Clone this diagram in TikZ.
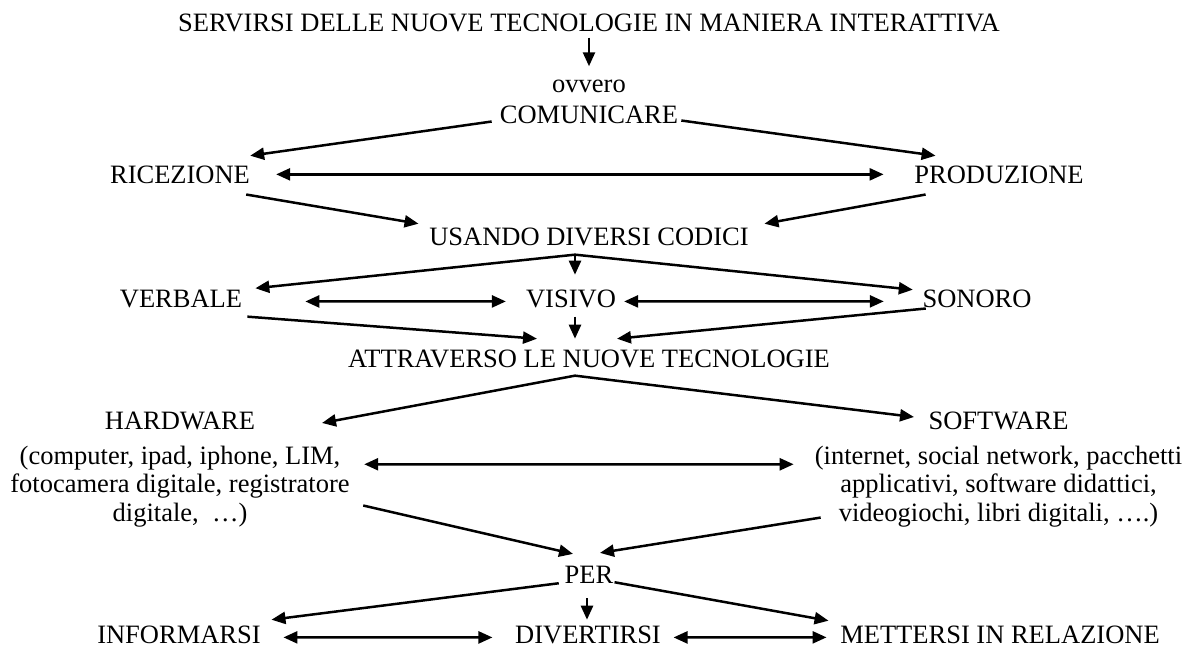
\documentclass[tikz,border=0pt]{standalone}
\usepackage{fontspec}
\setmainfont{Liberation Serif}
\usetikzlibrary{arrows.meta}
\begin{document}
\begin{tikzpicture}[x=1pt,y=-1pt,->,>={Triangle[length=14pt,width=12pt]},line width=2.5pt,font=\fontsize{26.5}{30}\selectfont,
    every node/.style={inner sep=0pt,anchor=base},
    blk/.style={anchor=north,align=center,font=\fontsize{26.5}{28.5}\selectfont}]
    \useasboundingbox (0,0) rectangle (1195,648);
    \node (tit) at (589,31){SERVIRSI DELLE NUOVE TECNOLOGIE IN MANIERA INTERATTIVA};
    \node (ovv) at (589,92){ovvero};
    \node (com) at (589,123){COMUNICARE};
    \node (ric) at (180,183){RICEZIONE};
    \node (prod) at (999,183){PRODUZIONE};
    \node (usa) at (589,245){USANDO DIVERSI CODICI};
    \node (verb) at (181,307){VERBALE};
    \node (vis) at (571,307){VISIVO};
    \node (son) at (977,307){SONORO};
    \node (attr) at (589,367){ATTRAVERSO LE NUOVE TECNOLOGIE};
    \node[blk] (hw) at (180,410.5){HARDWARE\\[6.5pt](computer, ipad, iphone, LIM,\\fotocamera digitale, registratore\\digitale, \ …)};
    \node[blk] (sw) at (998.5,410.5){SOFTWARE\\[6.5pt](internet, social network, pacchetti\\applicativi, software didattici,\\videogiochi, libri digitali, ….)};
    \node (per) at (589,583){PER};
    \node (info) at (179,643){INFORMARSI};
    \node (div) at (588,643){DIVERTIRSI};
    \node (mett) at (1000,643){METTERSI IN RELAZIONE};
    \coordinate (usab) at ([xshift=-14pt,yshift=-8pt]usa.south);
    \coordinate (attrb) at ([xshift=-14pt,yshift=-7pt]attr.south);
    \draw[shorten <=5pt,shorten >=12pt](tit.south)--(ovv.north);
    \draw([xshift=-7pt,yshift=3pt]com.south west)--([xshift=-1pt,yshift=8.5pt]ric.north east);
    \draw([xshift=2pt,yshift=4pt]com.south east)--([xshift=22.5pt,yshift=8.5pt]prod.north west);
    \draw[<->,shorten <=25pt,shorten >=29.5pt](ric.east)--(prod.west);
    \draw([xshift=-5pt,yshift=-10pt]ric.south east)--([xshift=-9.5pt,yshift=2.5pt]usa.north west);
    \draw([xshift=12.5pt,yshift=-10pt]prod.south west)--([xshift=14.5pt,yshift=2.5pt]usa.north east);
    \draw(usab)--([xshift=12pt]verb.north east);
    \draw(usab)--([xshift=4pt,yshift=13.5pt]vis.north);
    \draw(usab)--([xshift=-8.5pt,yshift=-1.5pt]son.north west);
    \draw[<->,shorten <=62pt,shorten >=19pt]([yshift=-3pt]verb.east)--([yshift=-3pt]vis.west);
    \draw[<->,shorten <=7pt,shorten >=37.5pt]([yshift=-3pt]vis.east)--([yshift=-3pt]son.west);
    \draw([xshift=4pt,yshift=-8pt]verb.south east)--([xshift=-52pt,yshift=9.5pt]attr.north);
    \draw([xshift=4pt,yshift=-8pt]vis.south)--([xshift=-14pt,yshift=9.5pt]attr.north);
    \draw([xshift=4.5pt]son.south west)--([xshift=28pt,yshift=9.5pt]attr.north);
    \draw(attrb)--([xshift=142pt,yshift=-12.5pt]hw.north);
    \draw(attrb)--([xshift=-84.5pt,yshift=-6.5pt]sw.north);
    \draw[<->]([xshift=13.4pt,yshift=5.1pt]hw.east)--([xshift=-20pt,yshift=5.1pt]sw.west);
    \draw([xshift=12.4pt,yshift=22.7pt]hw.south east)--([xshift=-16pt,yshift=10.5pt]per.north);
    \draw([xshift=7pt,yshift=10.7pt]sw.south west)--([xshift=11pt,yshift=11.5pt]per.north);
    \draw([xshift=-4.7pt,yshift=1pt]per.south west)--([xshift=9.5pt,yshift=4.5pt]info.north east);
    \draw([xshift=-2pt,yshift=-14pt]per.south)--([xshift=-1pt,yshift=4.5pt]div.north);
    \draw([yshift=2pt]per.south east)--([xshift=-10.5pt,yshift=3.5pt]mett.north west);
    \draw[<->,shorten <=21.5pt,shorten >=21.5pt]([yshift=-3pt]info.east)--([yshift=-3pt]div.west);
    \draw[<->,shorten <=11.5pt,shorten >=12.5pt]([yshift=-3pt]div.east)--([yshift=-3pt]mett.west);
\end{tikzpicture}
\end{document}
